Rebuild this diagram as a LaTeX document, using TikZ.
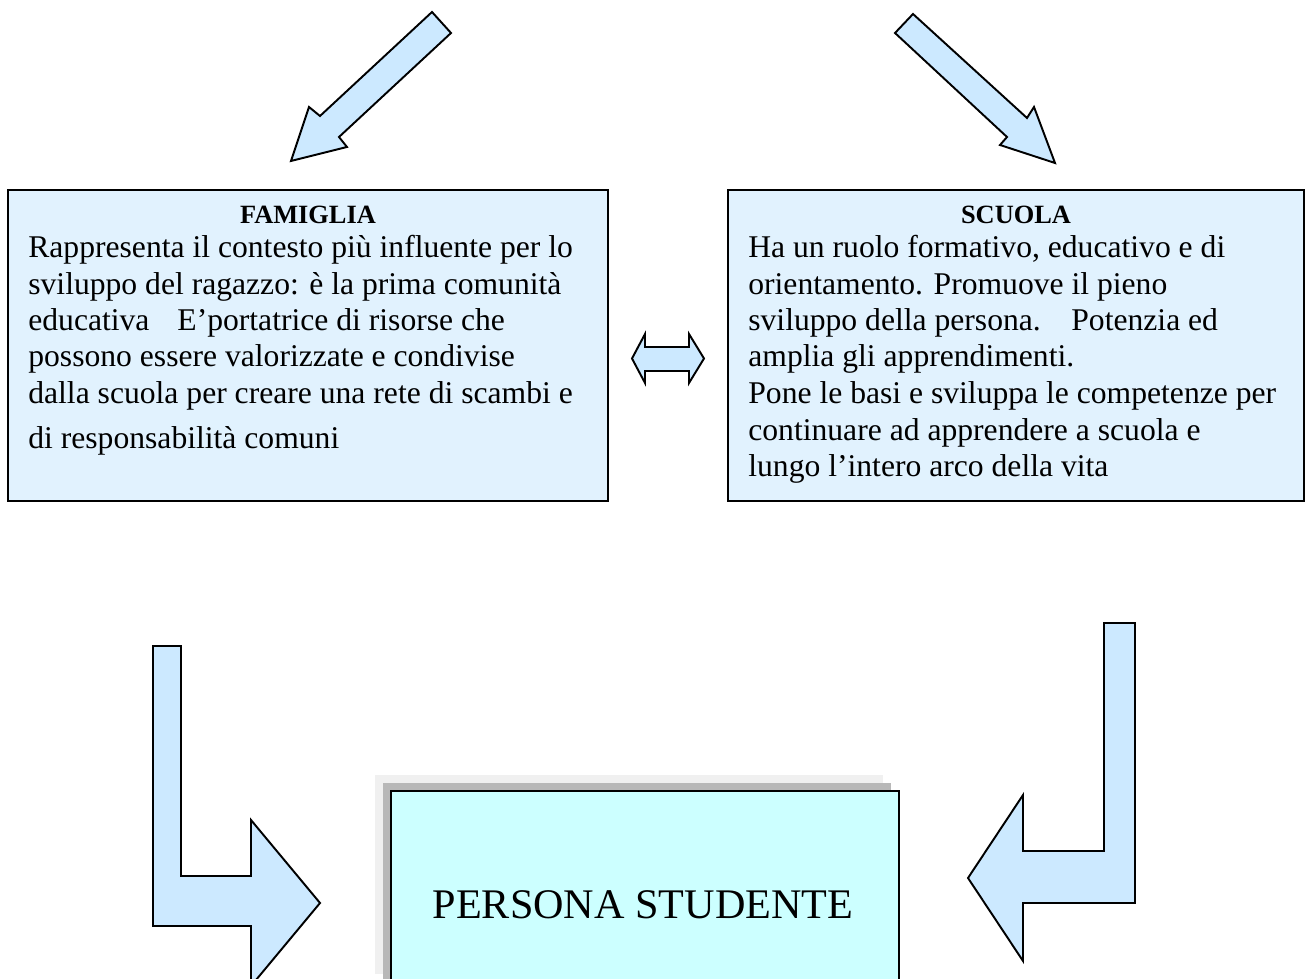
\documentclass[tikz,border=0pt]{standalone}
\usepackage{fontspec}
\setmainfont{Liberation Serif}
\usetikzlibrary{positioning}
\definecolor{arrowblue}{RGB}{204,233,255}
\definecolor{boxblue}{RGB}{225,242,254}
\definecolor{personcyan}{RGB}{204,255,255}
\definecolor{shadowdark}{RGB}{184,184,184}
\definecolor{shadowlight}{RGB}{240,240,240}
\tikzstyle{Box} = [rectangle,draw=black,line width=1.1pt,fill=boxblue]
\tikzstyle{Pers} = [Box,fill=personcyan]
\tikzstyle{Shd} = [rectangle,draw=none,minimum width=10.16cm,minimum height=3.98cm]
\tikzstyle{Blk} = [draw=black,line width=1.1pt,fill=arrowblue,line join=miter]
\tikzstyle{Tit} = [inner sep=0pt,font=\fontsize{15}{18}\selectfont\bfseries]
\tikzstyle{Txt} = [anchor=base west,inner sep=0pt,font=\fontsize{18}{21}\selectfont]

\begin{document}
\begin{tikzpicture}[x=0.02cm,y=-0.02cm]
  \useasboundingbox (0,0) rectangle (1305,979);
  \clip (0,0) rectangle (1305,979);

  % incoming arrows
  \draw [Blk] (432,12) -- (451,33) -- (339,137) -- (347,147) -- (291,161)
    -- (309,107) -- (320,116) -- cycle;
  \draw [Blk] (913,14) -- (895,33) -- (1007,137) -- (1000,145) -- (1055,163)
    -- (1034,107) -- (1027,118) -- cycle;

  \node [Box,minimum width=12cm,minimum height=6.22cm] (fam) at (308,345.5) {};
  \node [Tit,below=0.33cm of fam.north] (famt) {FAMIGLIA};
  \node [Txt] (f1) at (28,258) {Rappresenta il contesto più influente per lo};
  \node [Txt] (f2) at (28,295) {sviluppo del ragazzo: è la prima comunità};
  \node [Txt] (f3) at (28,331) {educativa\hspace{0.4cm} E’portatrice di risorse che};
  \node [Txt] (f4) at (28,367) {possono essere valorizzate e condivise};
  \node [Txt] (f5) at (28,404) {dalla scuola per creare una rete di scambi e};
  \node [Txt] (f6) at (28,449) {di responsabilità comuni};

  \node [Box,minimum width=11.52cm,minimum height=6.22cm] (scu) at (1016,345.5) {};
  \node [Tit,below=0.33cm of scu.north] (scut) {SCUOLA};
  \node [Txt] (s1) at (748,258) {Ha un ruolo formativo, educativo e di};
  \node [Txt] (s2) at (748,295) {orientamento. Promuove il pieno};
  \node [Txt] (s3) at (748,331) {sviluppo della persona.\hspace{0.4cm} Potenzia ed};
  \node [Txt] (s4) at (748,367) {amplia gli apprendimenti.};
  \node [Txt] (s5) at (748,404) {Pone le basi e sviluppa le competenze per};
  \node [Txt] (s6) at (748,441) {continuare ad apprendere a scuola e};
  \node [Txt] (s7) at (748,477) {lungo l’intero arco della vita};

  % exchange between the two
  \draw [Blk] (632,358.5) -- (645,334) -- (645,347) -- (689,347) -- (689,334)
    -- (704,358.5) -- (689,383) -- (689,371) -- (645,371) -- (645,383) -- cycle;

  % student
  \node [Shd,fill=shadowlight] (shl) at (629,874.5) {};
  \node [Shd,fill=shadowdark] (shd) at (637,882.5) {};
  \node [Pers,minimum width=10.16cm,minimum height=3.98cm] (pers) at (645,890.5) {};
  \node [anchor=base,inner sep=0pt,font=\fontsize{24}{28}\selectfont] (perst) at (643,918) {PERSONA STUDENTE};

  % arrows into the student
  \draw [Blk] (153,646) -- (181,646) -- (181,876) -- (251,876) -- (251,820)
    -- (320,903) -- (251,986) -- (251,926) -- (153,926) -- cycle;
  \draw [Blk] (1104,623) -- (1135,623) -- (1135,903) -- (1023,903) -- (1023,961)
    -- (968,878) -- (1023,795) -- (1023,851) -- (1104,851) -- cycle;
\end{tikzpicture}
\end{document}
